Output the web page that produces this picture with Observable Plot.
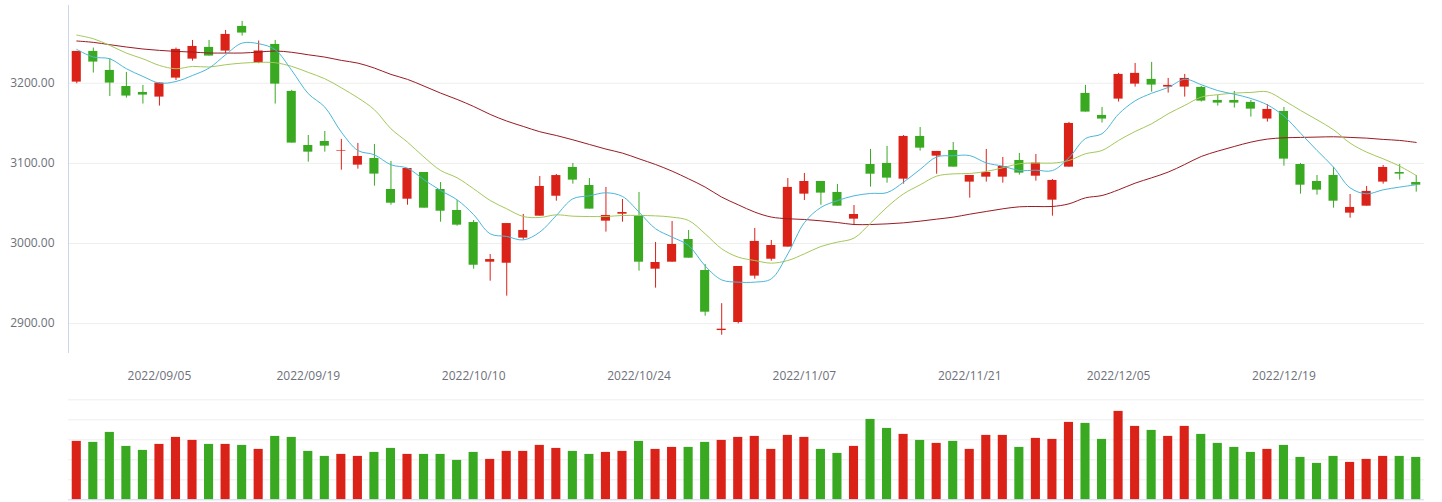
<!DOCTYPE html>
<html><head><meta charset="utf-8">
<script src="https://cdn.jsdelivr.net/npm/d3@7"></script>
<script src="https://cdn.jsdelivr.net/npm/@observablehq/plot@0.6"></script>
<style>
html,body{margin:0;padding:0;background:#fff;}
#chart svg{display:block;}
</style></head><body><div id="chart"></div>
<script>
const dates = ["2022/08/29","2022/08/30","2022/08/31","2022/09/01","2022/09/02","2022/09/05","2022/09/06","2022/09/07","2022/09/08","2022/09/09",
"2022/09/13","2022/09/14","2022/09/15","2022/09/16","2022/09/19","2022/09/20","2022/09/21","2022/09/22","2022/09/23","2022/09/26",
"2022/09/27","2022/09/28","2022/09/29","2022/09/30","2022/10/10","2022/10/11","2022/10/12","2022/10/13","2022/10/14","2022/10/17",
"2022/10/18","2022/10/19","2022/10/20","2022/10/21","2022/10/24","2022/10/25","2022/10/26","2022/10/27","2022/10/28","2022/10/31",
"2022/11/01","2022/11/02","2022/11/03","2022/11/04","2022/11/07","2022/11/08","2022/11/09","2022/11/10","2022/11/11","2022/11/14",
"2022/11/15","2022/11/16","2022/11/17","2022/11/18","2022/11/21","2022/11/22","2022/11/23","2022/11/24","2022/11/25","2022/11/28",
"2022/11/29","2022/12/01","2022/12/02","2022/12/05","2022/12/06","2022/12/07","2022/12/08","2022/12/09","2022/12/12","2022/12/13",
"2022/12/14","2022/12/15","2022/12/16","2022/12/19","2022/12/20","2022/12/21","2022/12/22","2022/12/23","2022/12/26","2022/12/27",
"2022/12/28","2022/12/29"];

const open = [3201.4,3239.7,3216.0,3195.9,3188.5,3182.7,3206.4,3230.1,3244.7,3240.1,
3270.9,3225.6,3248.4,3189.8,3122.3,3127.3,3115.3,3097.8,3106.1,3067.4,
3055.3,3088.6,3067.4,3041.2,3026.2,2976.7,2975.4,3006.7,3034.1,3059.0,
3094.9,3072.4,3027.9,3036.6,3033.7,2968.0,2976.7,3005.0,2966.3,2891.4,
2901.4,2959.3,2980.4,2995.5,3061.6,3077.4,3063.7,3030.4,3098.6,3099.9,
3080.3,3133.6,3109.0,3116.1,3076.6,3082.8,3082.8,3103.6,3084.0,3054.1,
3095.3,3187.3,3159.8,3180.2,3198.9,3204.8,3195.2,3195.2,3194.8,3178.5,
3178.5,3176.1,3155.3,3164.8,3098.6,3077.4,3084.9,3037.9,3046.6,3076.6,
3088.6,3076.1];
const high = [3239.7,3243.9,3230.5,3213.5,3197.3,3200.2,3243.9,3253.4,3253.4,3265.9,
3277.2,3252.7,3253.4,3191.1,3134.8,3139.8,3129.9,3124.9,3123.6,3102.4,
3093.6,3088.6,3076.1,3053.7,3028.7,2986.3,3024.9,3036.3,3083.6,3086.1,
3099.9,3081.1,3070.0,3054.9,3063.7,3001.3,3027.5,3016.3,2973.8,2924.9,
2971.3,3018.8,3003.8,3081.1,3087.4,3077.4,3073.7,3047.4,3117.4,3121.1,
3134.8,3144.8,3114.9,3126.1,3084.9,3117.4,3107.4,3112.4,3111.1,3079.9,
3151.1,3197.3,3169.8,3212.3,3224.7,3226.0,3206.0,3211.0,3196.0,3184.8,
3189.8,3178.5,3173.5,3169.8,3099.9,3084.9,3094.9,3061.2,3071.2,3097.4,
3098.6,3084.9];
const low = [3199.3,3212.7,3183.5,3181.4,3174.0,3171.5,3203.5,3227.6,3233.9,3236.8,
3258.8,3224.4,3174.0,3125.3,3101.5,3114.0,3091.5,3092.8,3071.6,3047.8,
3047.8,3044.1,3026.6,3021.6,2968.0,2953.0,2934.3,3004.2,3034.1,3052.8,
3074.1,3042.9,3014.2,3026.6,2965.5,2944.3,2976.7,2981.7,2909.3,2885.6,
2899.7,2955.5,2978.0,2995.5,3053.7,3047.8,3046.6,3023.7,3070.4,3075.3,
3074.1,3115.3,3086.5,3095.3,3056.6,3076.6,3075.3,3085.3,3077.8,3034.1,
3095.3,3164.0,3150.3,3176.5,3195.2,3188.9,3187.7,3182.7,3176.5,3171.5,
3169.0,3157.7,3151.5,3096.5,3061.6,3060.3,3044.1,3031.6,3046.6,3074.1,
3079.1,3064.1];
const close = [3239.7,3226.4,3200.2,3184.0,3185.2,3200.2,3242.2,3245.9,3233.9,3260.9,
3262.6,3240.2,3198.9,3125.3,3114.0,3121.5,3116.1,3108.6,3086.6,3050.3,
3093.6,3044.1,3040.3,3022.9,2972.9,2980.0,3024.9,3016.3,3071.2,3084.8,
3079.1,3042.9,3035.0,3038.7,2976.7,2976.3,2998.8,2981.7,2914.3,2893.1,
2971.3,3002.6,2997.5,3070.0,3077.4,3062.9,3046.6,3036.2,3086.5,3081.6,
3133.6,3119.0,3114.9,3095.3,3084.9,3088.6,3096.1,3087.8,3100.3,3078.7,
3149.8,3164.0,3155.3,3211.0,3212.3,3197.7,3197.3,3206.0,3177.7,3175.2,
3175.2,3167.7,3167.3,3105.3,3072.8,3066.6,3052.8,3045.0,3065.0,3094.9,
3086.6,3072.8];
const volume = [292,287,337,267,247,277,312,297,277,277,
272,252,317,312,242,217,227,217,237,257,
227,227,227,197,237,202,242,242,272,257,
242,227,237,242,292,252,262,262,287,297,
312,317,252,322,312,252,232,267,402,357,
327,297,282,292,252,322,322,262,307,302,
387,382,302,442,367,347,317,367,327,282,
262,237,252,272,212,182,217,187,202,217,
217,212];
const ma5 = [3242.2,3232.7,3230.5,3218.1,3208.5,3200.2,3202.2,3209.7,3218.9,3235.5,
3250.1,3249.3,3241.8,3216.0,3187.0,3170.2,3139.0,3116.1,3110.7,3098.2,
3094.0,3079.5,3066.2,3054.5,3036.0,3012.1,3008.8,3004.5,3014.2,3035.0,
3055.8,3059.5,3063.3,3058.7,3039.2,3018.4,3008.0,2997.5,2972.0,2954.6,
2951.8,2951.8,2955.9,2987.1,3026.0,3045.0,3053.5,3059.5,3062.5,3063.5,
3076.6,3092.5,3108.0,3109.5,3109.7,3100.6,3096.5,3091.2,3091.5,3091.0,
3107.0,3131.0,3137.0,3161.5,3178.0,3187.5,3194.7,3204.9,3198.2,3190.8,
3186.3,3181.0,3173.0,3159.0,3137.7,3116.1,3095.3,3069.5,3062.0,3067.0,
3070.4,3073.3];
const ma10 = [3260.1,3255.5,3247.2,3237.6,3230.5,3222.2,3218.1,3221.0,3220.2,3223.1,
3225.1,3226.0,3225.6,3221.0,3213.5,3205.6,3194.3,3181.8,3166.9,3143.2,
3126.5,3107.8,3091.2,3082.0,3068.3,3053.7,3043.3,3033.7,3032.5,3035.8,
3034.1,3033.7,3033.7,3035.0,3035.0,3034.5,3032.9,3028.7,3012.1,2993.4,
2983.0,2978.8,2975.5,2978.8,2987.1,2996.3,3001.7,3006.7,3025.4,3045.4,
3062.0,3073.2,3084.1,3086.9,3087.4,3089.9,3094.5,3099.5,3100.5,3100.3,
3103.6,3112.0,3116.1,3128.6,3139.8,3149.4,3161.9,3172.3,3182.7,3185.7,
3187.7,3188.5,3189.3,3178.5,3166.1,3154.4,3141.9,3125.3,3114.0,3105.7,
3096.5,3084.9];
const ma30 = [3252.7,3251.0,3248.1,3245.2,3242.7,3241.0,3239.7,3238.9,3237.7,3237.7,
3237.7,3238.9,3240.2,3238.6,3235.5,3232.6,3228.5,3225.1,3218.9,3211.0,
3204.8,3196.4,3187.7,3179.8,3171.0,3161.1,3152.8,3146.1,3139.5,3134.8,
3129.4,3123.6,3117.8,3112.8,3105.7,3098.6,3090.3,3080.7,3070.4,3057.9,
3048.3,3039.2,3033.0,3030.9,3030.0,3028.3,3026.2,3023.7,3023.7,3024.5,
3025.8,3027.9,3030.4,3032.9,3036.6,3040.0,3043.3,3045.8,3046.2,3046.2,
3049.5,3057.0,3059.9,3067.0,3075.3,3082.0,3089.1,3098.6,3108.6,3115.3,
3121.1,3126.5,3130.3,3131.9,3132.4,3132.8,3133.2,3132.4,3131.5,3129.9,
3128.6,3126.1];
const xTicks = ["2022/09/05","2022/09/19","2022/10/10","2022/10/24","2022/11/07","2022/11/21","2022/12/05","2022/12/19"];
const yTicks = [2900,3000,3100,3200];
const volTicks = [100,200,300,400,500];

const rows = dates.map((d,i)=>({date:d, open:open[i], high:high[i], low:low[i], close:close[i],
  volume:volume[i], ma5:ma5[i], ma10:ma10[i], ma30:ma30[i]}));
const UP = "#da2218", DOWN = "#39a922";
const col = d => d.close >= d.open ? UP : DOWN;
const xScale = {type:"band", domain:dates, paddingInner:0.45, paddingOuter:0.225};
const font = {fontFamily:"'Open Sans', sans-serif", fontSize:"12px", background:"#fff"};

const price = Plot.plot({
  width:1442, height:390, marginLeft:68, marginRight:18, marginTop:5, marginBottom:38,
  style:font,
  x:{...xScale, label:null},
  y:{domain:[2864,3297], label:null},
  color:{type:"identity"},
  marks:[
    Plot.gridY(yTicks, {stroke:"#eeeeee", strokeOpacity:1}),
    Plot.frame({anchor:"left", stroke:"#ccd6eb"}),
    Plot.axisY(yTicks, {tickSize:0, tickPadding:14, tickFormat:d=>d.toFixed(2), fill:"#6e7079", label:null}),
    Plot.axisX(xTicks, {tickSize:0, tickPadding:19, fill:"#6e7079", label:null}),
    Plot.ruleX(rows, {x:"date", y1:"low", y2:"high", stroke:col, strokeWidth:1}),
    Plot.barY(rows, {x:"date", y1:"open", y2:"close", fill:col}),
    Plot.lineY(rows, {x:"date", y:"ma30", stroke:"#991b23", strokeWidth:1, curve:"catmull-rom"}),
    Plot.lineY(rows, {x:"date", y:"ma10", stroke:"#a3c85a", strokeWidth:1, curve:"catmull-rom"}),
    Plot.lineY(rows, {x:"date", y:"ma5", stroke:"#4bb7d9", strokeWidth:1, curve:"catmull-rom"})
  ]
});

const vol = Plot.plot({
  width:1442, height:112, marginLeft:68, marginRight:18, marginTop:9.3, marginBottom:2.7,
  style:font,
  x:{...xScale, axis:null},
  y:{domain:[0,500], axis:null},
  color:{type:"identity"},
  marks:[
    Plot.gridY(volTicks, {stroke:"#eeeeee", strokeOpacity:1}),
    Plot.barY(rows, {x:"date", y:"volume", fill:col}),
    Plot.ruleY([0], {stroke:"#ccd6eb"})
  ]
});

document.getElementById("chart").append(price, vol);
</script></body></html>
